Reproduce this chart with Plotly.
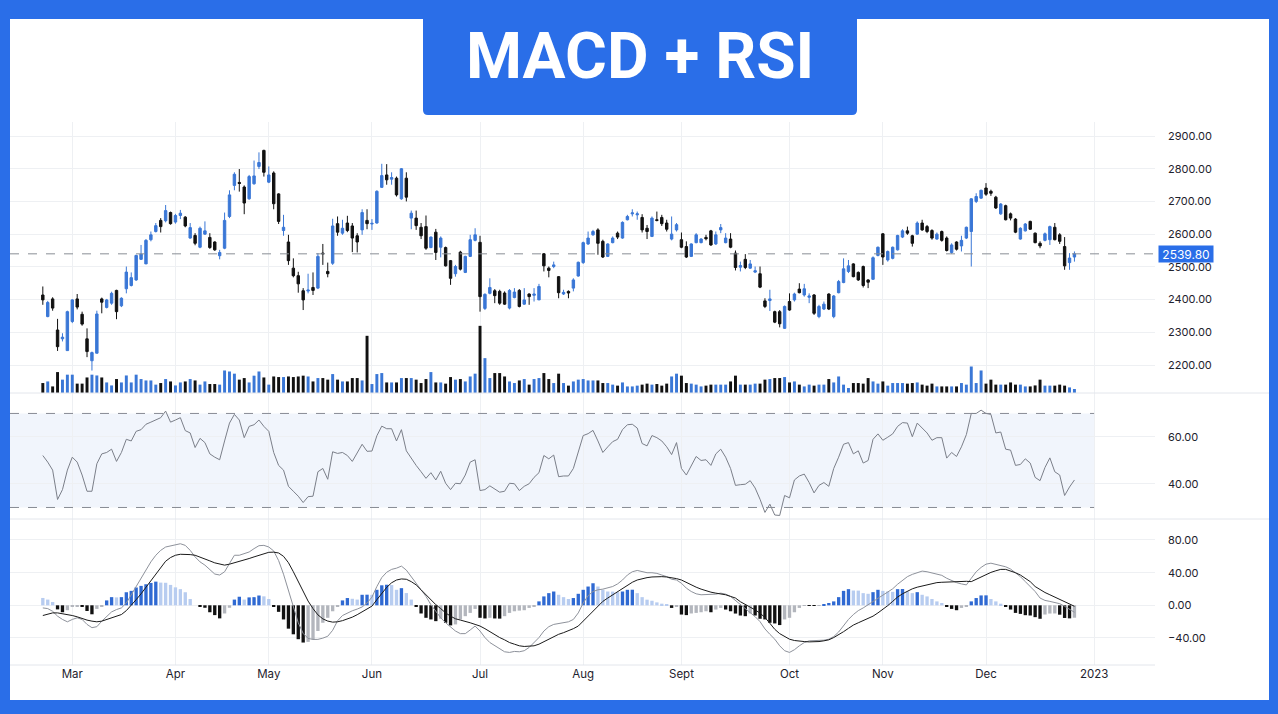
import pandas as pd
import plotly.graph_objects as go

# ---------------- data ----------------
open_ = [2414,2348,2402,2307,2280,2244,2333,2402,2355,2280,
         2213,2236,2402,2376,2389,2428,2381,2433,2443,2460,
         2523,2509,2583,2608,2642,2641,2666,2637,2657,2652,
         2588,2596,2560,2600,2590,2576,2534,2557,2654,2749,
         2758,2744,2708,2754,2807,2856,2759,2787,2723,2611,
         2576,2496,2473,2427,2426,2437,2435,2542,2486,2511,
         2632,2603,2634,2625,2595,2613,2642,2631,2634,2743,
         2781,2768,2771,2708,2771,2649,2649,2621,2623,2559,
         2606,2560,2559,2519,2479,2545,2483,2532,2581,2575,
         2373,2419,2427,2425,2420,2374,2406,2428,2386,2417,
         2413,2399,2540,2496,2501,2470,2417,2425,2435,2472,
         2513,2570,2598,2613,2578,2532,2574,2603,2588,2644,
         2662,2659,2651,2618,2593,2644,2651,2634,2585,2613,
         2583,2562,2532,2574,2574,2590,2610,2570,2613,2574,
         2585,2542,2499,2523,2496,2484,2479,2396,2397,2363,
         2363,2312,2394,2399,2432,2414,2407,2414,2348,2371,
         2417,2348,2421,2452,2486,2509,2483,2501,2460,2462,
         2535,2601,2521,2526,2552,2591,2610,2595,2600,2634,
         2623,2611,2585,2608,2588,2544,2576,2564,2588,2608,
         2700,2710,2741,2731,2713,2662,2687,2662,2646,2585,
         2610,2639,2603,2572,2581,2583,2621,2598,2562,2513,
         2530]
high_ = [2440,2396,2407,2341,2297,2366,2401,2417,2363,2312,
         2241,2366,2406,2402,2424,2430,2407,2501,2483,2537,
         2567,2585,2608,2634,2649,2689,2669,2662,2674,2655,
         2634,2603,2623,2639,2603,2578,2552,2666,2734,2789,
         2799,2749,2781,2825,2850,2858,2807,2792,2725,2659,
         2598,2526,2485,2435,2479,2483,2542,2570,2513,2647,
         2654,2644,2656,2634,2603,2676,2676,2646,2734,2815,
         2814,2789,2776,2802,2789,2672,2672,2634,2657,2593,
         2616,2593,2562,2521,2506,2549,2534,2598,2618,2595,
         2419,2465,2432,2430,2425,2432,2435,2432,2435,2419,
         2435,2448,2542,2501,2516,2472,2430,2428,2465,2516,
         2577,2608,2613,2618,2583,2572,2593,2608,2639,2659,
         2676,2669,2661,2628,2654,2669,2659,2644,2654,2634,
         2605,2578,2572,2603,2588,2598,2613,2608,2631,2603,
         2603,2550,2516,2539,2521,2501,2501,2404,2430,2366,
         2368,2382,2419,2421,2450,2448,2419,2417,2384,2394,
         2419,2414,2460,2526,2521,2511,2486,2504,2462,2532,
         2562,2603,2550,2562,2598,2615,2623,2598,2639,2644,
         2628,2615,2605,2611,2593,2572,2578,2595,2623,2710,
         2725,2736,2756,2736,2717,2695,2690,2666,2649,2621,
         2634,2641,2605,2578,2605,2626,2634,2603,2591,2542,
         2547]
low_ = [2384,2346,2366,2243,2272,2244,2328,2370,2320,2224,
        2183,2236,2358,2373,2384,2340,2377,2419,2440,2457,
        2521,2509,2578,2605,2605,2636,2629,2632,2646,2621,
        2586,2566,2557,2598,2555,2549,2523,2554,2649,2734,
        2730,2661,2705,2751,2799,2776,2756,2676,2631,2595,
        2506,2468,2421,2368,2419,2414,2432,2506,2468,2506,
        2595,2598,2606,2545,2544,2598,2615,2613,2632,2741,
        2751,2751,2715,2705,2700,2615,2613,2585,2552,2557,
        2521,2529,2501,2445,2470,2489,2481,2530,2578,2363,
        2368,2416,2389,2384,2384,2370,2404,2376,2384,2384,
        2394,2399,2486,2468,2496,2404,2414,2404,2425,2470,
        2509,2567,2595,2537,2527,2530,2572,2585,2586,2642,
        2654,2644,2605,2585,2591,2639,2625,2608,2581,2608,
        2557,2527,2530,2572,2572,2581,2564,2567,2603,2572,
        2557,2489,2486,2493,2494,2481,2435,2374,2365,2328,
        2315,2310,2366,2394,2419,2409,2389,2353,2343,2368,
        2368,2343,2419,2450,2481,2468,2457,2437,2435,2460,
        2532,2506,2516,2523,2550,2588,2598,2562,2598,2610,
        2603,2583,2583,2577,2547,2540,2550,2547,2585,2501,
        2695,2708,2717,2717,2677,2659,2642,2642,2603,2583,
        2608,2613,2572,2557,2578,2567,2581,2570,2491,2491,
        2516]
close_ = [2399,2391,2374,2256,2285,2363,2399,2377,2325,2241,
          2238,2356,2392,2399,2419,2363,2404,2484,2467,2535,
          2539,2581,2598,2626,2623,2672,2632,2657,2664,2625,
          2620,2572,2618,2610,2559,2552,2544,2642,2720,2783,
          2755,2695,2776,2778,2819,2789,2781,2693,2639,2621,
          2519,2473,2448,2399,2429,2428,2532,2540,2479,2625,
          2606,2618,2611,2588,2576,2666,2632,2633,2731,2779,
          2766,2773,2720,2800,2713,2664,2626,2595,2557,2591,
          2544,2588,2503,2465,2501,2493,2532,2583,2598,2409,
          2416,2437,2412,2389,2386,2428,2423,2379,2399,2409,
          2417,2440,2503,2489,2506,2421,2422,2420,2460,2514,
          2574,2588,2608,2572,2530,2570,2588,2591,2636,2654,
          2665,2662,2613,2608,2649,2642,2632,2615,2600,2629,
          2560,2530,2570,2598,2585,2586,2567,2598,2620,2588,
          2560,2498,2504,2498,2509,2488,2438,2379,2402,2331,
          2326,2379,2368,2417,2421,2433,2411,2358,2379,2386,
          2371,2411,2455,2494,2503,2470,2460,2443,2453,2528,
          2560,2530,2547,2560,2596,2610,2603,2572,2634,2613,
          2608,2588,2600,2581,2550,2567,2554,2581,2621,2708,
          2715,2734,2722,2725,2680,2692,2644,2649,2606,2618,
          2631,2615,2574,2564,2601,2623,2583,2578,2503,2527,
          2539.80]
volume_m = [5.0,5.8,3.3,10.5,6.7,9.2,9.2,4.7,4.7,7.8,
            9.2,8.8,7.8,5.3,3.8,7.0,5.3,8.8,5.3,9.2,
            7.0,6.3,6.3,4.2,5.0,7.0,5.8,3.8,5.3,5.8,
            7.0,6.3,4.2,5.8,4.5,4.5,4.2,11.3,10.8,9.7,
            6.7,7.5,5.3,8.7,10.8,7.8,4.2,8.3,8.0,8.0,
            8.3,8.0,8.3,8.7,8.3,5.8,7.5,7.5,6.7,9.5,
            6.7,5.8,5.8,7.5,7.5,6.3,28.7,4.5,9.5,10.0,
            5.3,5.3,5.3,7.5,7.5,7.5,6.7,5.0,7.0,10.5,
            5.3,5.3,4.7,8.0,6.7,7.0,5.8,8.3,9.7,33.7,
            17.5,7.5,10.0,10.0,8.3,5.8,5.0,6.3,7.0,4.2,
            7.0,7.5,10.0,7.0,5.0,9.7,5.0,3.7,5.8,6.7,
            7.0,6.3,6.3,6.3,5.0,5.0,4.2,3.7,5.3,3.3,
            3.3,3.7,4.2,4.7,4.2,4.5,3.7,4.7,8.3,9.7,
            8.7,5.0,4.7,4.2,3.3,3.7,4.2,4.2,4.2,4.2,
            5.8,8.7,4.2,4.2,4.2,4.7,4.7,6.7,7.0,7.5,
            7.5,8.0,5.3,5.8,4.2,3.3,4.2,3.7,4.2,4.2,
            7.0,5.3,8.3,4.2,2.5,5.0,5.0,4.7,7.5,5.8,
            4.7,5.8,3.7,5.0,5.0,5.0,4.7,5.0,5.3,4.2,
            3.7,4.7,3.3,3.3,3.3,3.3,3.3,5.0,4.2,13.3,
            5.0,11.3,4.7,6.7,4.2,4.2,4.2,5.3,4.2,4.2,
            3.3,3.3,3.8,6.7,3.7,3.7,3.7,4.2,3.7,2.8,
            2.0]
rsi = [52.1,49.3,45.9,33.4,37.6,45.9,51.4,49.3,43.8,36.9,
       36.9,48.6,52.8,53.4,54.8,49.6,53.4,59.0,58.3,62.4,
       63.1,65.4,66.3,67.2,68.2,71.0,66.3,67.2,68.2,62.7,
       61.7,55.5,59.4,57.6,52.8,51.4,50.3,58.3,65.9,69.6,
       67.2,59.7,64.5,65.2,67.2,64.5,62.4,53.4,47.9,45.9,
       39.0,36.9,34.8,32.1,34.6,34.8,45.2,46.6,42.0,53.7,
       53.0,53.4,52.1,49.6,53.4,56.9,53.9,54.0,60.5,64.6,
       63.5,63.5,58.3,63.1,54.1,50.7,47.9,45.2,42.4,44.8,
       41.7,45.4,40.3,37.6,40.3,40.1,43.8,49.3,50.3,37.2,
       37.6,39.2,37.9,36.5,36.9,40.3,40.1,37.2,39.0,40.1,
       42.8,44.8,52.1,50.7,52.3,43.1,43.4,43.4,46.6,53.4,
       60.6,61.4,62.8,58.3,53.4,55.8,58.0,59.0,63.1,65.2,
       65.4,63.8,57.2,56.2,60.6,59.7,58.3,55.8,52.5,57.6,
       46.6,43.8,47.9,51.7,50.0,50.3,47.9,52.8,54.8,51.4,
       46.6,39.4,39.7,39.9,41.4,38.3,33.5,27.9,31.4,26.8,
       26.6,35.1,34.1,41.7,43.4,44.2,40.6,36.2,39.4,40.6,
       39.0,46.6,51.4,56.9,57.6,52.8,54.1,48.9,50.0,59.0,
       61.3,58.6,59.9,61.3,64.5,66.1,65.9,60.1,65.9,63.8,
       61.7,58.6,59.7,59.7,51.0,53.4,51.7,55.8,61.0,70.0,
       70.0,71.4,70.0,69.6,61.7,62.1,54.8,54.4,47.9,48.3,
       50.7,48.9,42.8,41.4,47.0,51.1,45.2,43.8,35.1,38.7,
       41.7]
macd = [-3.2,-4.0,-7.3,-13.3,-17.3,-20.2,-17.3,-15.3,-17.3,-23.4,
        -27.4,-26.2,-19.4,-13.3,-8.1,-5.2,-3.2,2.8,12.9,23.0,
        33.1,43.1,53.2,61.3,67.3,71.4,73.0,74.2,75.4,73.4,
        67.3,59.3,53.2,49.2,43.1,38.3,37.1,41.1,51.2,61.3,
        61.3,63.3,65.3,69.4,73.0,73.4,71.4,66.6,54.8,38.1,
        18.0,-3.2,-21.4,-34.5,-40.5,-41.8,-41.7,-40.2,-37.9,-30.6,
        -19.0,-12.5,-9.5,-6.7,-4.6,-2.0,2.8,10.0,23.0,34.0,
        40.5,44.0,45.5,48.0,43.1,35.1,27.0,19.0,10.9,0.8,
        -7.3,-15.3,-21.4,-26.2,-31.5,-34.7,-34.7,-30.2,-25.4,-31.5,
        -39.5,-45.6,-49.6,-53.6,-56.9,-57.7,-56.5,-56.9,-55.6,-51.6,
        -45.6,-39.5,-31.5,-26.2,-23.4,-22.2,-21.4,-20.2,-17.3,-9.3,
        2.8,11.7,16.9,19.0,19.8,21.0,23.0,26.2,31.0,37.1,
        41.1,42.7,41.1,39.9,39.9,39.1,37.1,35.1,31.9,31.0,
        27.0,21.0,16.9,14.1,12.9,12.9,12.9,13.7,14.9,13.7,
        10.9,6.0,1.8,-3.6,-8.7,-13.9,-20.0,-28.9,-35.5,-41.5,
        -49.6,-55.6,-57.7,-54.4,-49.6,-45.6,-43.5,-43.5,-43.5,-42.7,
        -41.5,-38.3,-32.7,-24.6,-17.3,-11.3,-6.5,-3.2,0.8,4.8,
        8.9,12.9,16.9,20.2,25.8,31.0,35.1,37.9,40.3,41.9,
        41.1,39.9,38.3,36.7,33.1,30.2,27.8,26.2,25.0,33.1,
        41.1,46.4,50.4,51.6,50.4,49.2,47.2,44.4,39.9,35.1,
        29.0,23.0,16.9,8.9,6.0,4.8,3.6,2.0,-1.2,-5.2,
        -8.5]
signal = [-12.5,-10.5,-9.3,-9.3,-10.1,-11.3,-12.5,-14.1,-16.5,-18.1,
          -19.4,-20.2,-19.4,-17.3,-15.3,-13.3,-11.3,-6.5,-0.4,6.9,
          14.1,22.2,30.2,39.1,47.2,54.0,58.5,61.3,62.5,62.5,
          62.1,61.3,59.3,57.3,54.4,52.0,50.4,49.2,50.4,52.0,
          53.2,55.2,57.3,59.3,61.3,63.3,64.9,65.1,64.1,60.0,
          52.2,41.1,29.0,17.0,5.2,-4.0,-11.7,-16.6,-19.3,-20.6,
          -20.2,-18.8,-16.7,-14.5,-11.5,-8.1,-4.2,-1.0,6.9,14.5,
          22.0,27.6,31.0,32.3,31.9,29.0,25.0,19.0,12.9,6.9,
          0.8,-4.0,-9.3,-13.3,-16.5,-18.1,-19.4,-21.4,-23.4,-25.4,
          -28.6,-32.3,-35.5,-39.5,-42.3,-45.6,-47.6,-49.6,-50.4,-50.4,
          -49.6,-47.6,-44.4,-41.5,-38.3,-35.5,-33.5,-31.5,-28.6,-25.4,
          -19.4,-13.3,-7.3,-1.2,4.8,8.9,12.9,16.9,21.0,25.0,
          28.2,31.0,32.7,33.9,34.7,35.1,35.1,34.7,33.9,32.7,
          31.0,27.8,25.0,22.2,19.8,17.7,16.1,14.9,14.1,12.9,
          10.9,8.9,4.4,1.2,-2.0,-5.6,-9.6,-14.9,-22.0,-29.4,
          -34.7,-38.3,-41.5,-43.1,-44.0,-44.4,-44.8,-44.8,-44.4,-43.5,
          -42.3,-39.5,-36.3,-32.3,-28.2,-24.2,-21.4,-19.0,-16.5,-13.3,
          -9.3,-5.2,-0.4,4.8,10.1,14.1,17.3,20.2,22.2,23.8,
          25.4,27.0,27.8,28.2,28.6,29.0,29.4,29.8,29.4,29.0,
          31.9,35.1,37.9,40.3,42.3,44.0,44.0,42.3,39.9,37.1,
          33.1,29.0,23.0,19.0,15.7,12.9,10.1,7.7,4.8,1.6,
          -1.2]
hist = [9,7,4,-5,-8.5,-6,-1.5,-1,-1.5,-7,
        -11,-4.4,-1,6,10,9.7,10,16,17.7,21.8,
        23.8,25.8,27.4,29,27.8,27.6,25,22,19.8,16,
        7.7,0,-2,-3,-8.5,-12,-16,-10,-3,7,
        10.5,7,9.7,10,12,11,7.7,-1,-8,-17.3,
        -28.6,-35.5,-41.5,-45.6,-44.8,-41.5,-31.5,-21.4,-15.3,-7.3,
        -1,6,8.9,8,7,12.9,13,12.8,19,24.5,
        25.2,24.8,19,21,15,7,-2,-10,-15.3,-17.3,
        -19.4,-16.5,-21.4,-24.6,-23.4,-17.3,-13.3,-9.3,-4.4,-15.3,
        -16.1,-15.3,-16.1,-16.3,-13.3,-9.3,-7.3,-6.5,-6,-3.2,
        -1.2,4.8,10.9,14.9,16.9,12.9,10,7.7,8.9,14.1,
        19,23,27,23,19,16.9,16.8,16.1,16.9,19,
        19.1,14.9,10,6.9,5.6,3.6,2,0.8,-3.2,-1.2,
        -11.3,-12,-10,-9.3,-8.5,-7.3,-8.5,-5.2,-3.2,-5.2,
        -7.3,-10.1,-12.5,-13.3,-10,-12.5,-16.5,-17.3,-21.4,-22.2,
        -24.2,-17.3,-15.3,-8.5,-3.2,-0.5,-0.6,-0.8,-0.5,1.5,
        2.8,4.8,10,17.7,19.8,18.1,18,14.9,14.1,16.1,
        19,17.7,16.9,16.5,19.8,20,16.9,14.9,16.1,12.9,
        10.9,7.7,4.8,2.8,-2,-4.4,-6,-3.2,-1.2,4.8,
        8.9,12.1,12.2,7.7,4.8,2,-1.2,-5.2,-9.3,-10.5,
        -12.1,-12.5,-14.5,-16.5,-11.3,-10.1,-10,-11.5,-15.5,-16,
        -15.2]

holidays = ["2022-03-01", "2022-03-18", "2022-04-14", "2022-04-15", "2022-05-03",
            "2022-08-09", "2022-08-15", "2022-08-31", "2022-10-05", "2022-10-26",
            "2022-11-08"]
month_keys = ["2022-03", "2022-04", "2022-05", "2022-06", "2022-07", "2022-08",
              "2022-09", "2022-10", "2022-11", "2022-12", "2023-01"]
month_labels = ["Mar", "Apr", "May", "Jun", "Jul", "Aug", "Sept", "Oct", "Nov", "Dec", "2023"]
price_ticks = [2200, 2300, 2400, 2500, 2600, 2700, 2800, 2900]
rsi_ticks = [40, 60]
macd_ticks = [-40, 0, 40, 80]
RSI_UPPER, RSI_LOWER = 70, 30
TITLE = "MACD + RSI"

# ---------------- layout constants ----------------
W, H = 1278, 714
BLUE = "#2A6EE8"
CANDLE_BLUE = "#3A77D6"
DARK_BLUE = "#2F69D2"
LIGHT_BLUE = "#B7CCF0"
GRAY_BAR = "#B3B6BD"
BLACK = "#111111"
GRID = "#EEF0F3"
SEP = "#E3E6EC"
TXT = "#1E222D"
FONT = "Inter"


def fx(p):
    return p / W


def fy(p):
    return 1 - p / H


cal = pd.bdate_range("2022-02-21", "2023-01-13")
cal = cal[~cal.isin(pd.to_datetime(holidays))]
n = len(close_)
dates = cal[:n]
idx = list(range(n))
ym = cal.strftime("%Y-%m")
tick_pos = [int((ym == k).argmax()) for k in month_keys]

X_RANGE = [-6.68, 226.4]

up = [c >= o for o, c in zip(open_, close_)]
vol_colors = [CANDLE_BLUE if u else BLACK for u in up]

hist_colors = []
for i, v in enumerate(hist):
    prev = hist[i - 1] if i > 0 else v
    if v >= 0:
        hist_colors.append(DARK_BLUE if v > prev else LIGHT_BLUE)
    else:
        hist_colors.append(BLACK if v < prev else GRAY_BAR)

fig = go.Figure()

fig.add_trace(go.Bar(x=idx, y=volume_m, marker=dict(color=vol_colors, line=dict(width=0)),
                     width=0.6, xaxis="x", yaxis="y4"))
fig.add_trace(go.Candlestick(
    x=idx, open=open_, high=high_, low=low_, close=close_,
    increasing=dict(line=dict(color=CANDLE_BLUE, width=1), fillcolor=CANDLE_BLUE),
    decreasing=dict(line=dict(color=BLACK, width=1), fillcolor=BLACK),
    whiskerwidth=0, xaxis="x", yaxis="y"))

fig.add_trace(go.Scatter(x=idx, y=rsi, mode="lines", line=dict(color="#7B7F89", width=1),
                         xaxis="x2", yaxis="y2"))

fig.add_trace(go.Bar(x=idx, y=hist, marker=dict(color=hist_colors, line=dict(width=0)),
                     width=0.68, xaxis="x3", yaxis="y3"))
fig.add_trace(go.Scatter(x=idx, y=macd, mode="lines", line=dict(color="#8E929B", width=1),
                         xaxis="x3", yaxis="y3"))
fig.add_trace(go.Scatter(x=idx, y=signal, mode="lines", line=dict(color="#1A1A1A", width=1),
                         xaxis="x3", yaxis="y3"))

tickfont = dict(family=FONT, size=11, color=TXT)
xcommon = dict(range=X_RANGE, domain=[fx(10), fx(1155)], tickvals=tick_pos, ticktext=month_labels,
               showgrid=True, gridcolor=GRID, gridwidth=1, zeroline=False, showline=False,
               ticks="", fixedrange=True)
ycommon = dict(side="right", showgrid=True, gridcolor=GRID, gridwidth=1, zeroline=False,
               showline=False, ticks="", tickformat=".2f", tickfont=tickfont,
               ticklabelstandoff=12, fixedrange=True)

fig.update_layout(
    width=W, height=H,
    margin=dict(l=0, r=0, t=0, b=0),
    paper_bgcolor="white", plot_bgcolor="rgba(0,0,0,0)",
    showlegend=False, hovermode=False,
    xaxis=dict(**xcommon, anchor="y", showticklabels=False, rangeslider=dict(visible=False)),
    xaxis2=dict(**xcommon, anchor="y2", showticklabels=False, matches="x"),
    xaxis3=dict(**xcommon, anchor="y3", showticklabels=True, matches="x",
                tickfont=dict(family=FONT, size=11.5, color=TXT)),
    yaxis=dict(**ycommon, anchor="x", domain=[fy(393), fy(122)], range=[2114.4, 2942.8],
               tickvals=price_ticks),
    yaxis4=dict(anchor="x", overlaying="y", range=[0, 136], visible=False, fixedrange=True),
    yaxis2=dict(**ycommon, anchor="x2", domain=[fy(519), fy(393)], range=[25.1, 78.7],
                tickvals=rsi_ticks),
    yaxis3=dict(**ycommon, anchor="x3", domain=[fy(665), fy(519)], range=[-73.1, 105.7],
                tickvals=macd_ticks),
)

shapes = []
# RSI band and levels
shapes.append(dict(type="rect", xref="x2", yref="y2", x0=X_RANGE[0], x1=tick_pos[-1],
                   y0=RSI_LOWER, y1=RSI_UPPER, fillcolor="#F1F5FC", line=dict(width=0), layer="below"))
for lvl in (RSI_UPPER, RSI_LOWER):
    shapes.append(dict(type="line", xref="x2", yref="y2", x0=X_RANGE[0], x1=tick_pos[-1],
                       y0=lvl, y1=lvl, line=dict(color="#878B94", width=1, dash="dash")))
# last price line
shapes.append(dict(type="line", xref="paper", yref="y", x0=fx(10), x1=fx(1155),
                   y0=close_[-1], y1=close_[-1], line=dict(color="#8A8E96", width=1, dash="dash")))
# panel separators
for py in (393, 519):
    shapes.append(dict(type="line", xref="paper", yref="paper", x0=fx(10), x1=fx(1269),
                       y0=fy(py), y1=fy(py), line=dict(color=SEP, width=1)))
shapes.append(dict(type="line", xref="paper", yref="paper", x0=fx(10), x1=fx(1155),
                   y0=fy(665), y1=fy(665), line=dict(color=SEP, width=1)))
# blue frame
for (x0, x1, y0, y1) in [(0, W, 0, 19), (0, 10, 0, H), (1269, W, 0, H), (0, W, 700, H)]:
    shapes.append(dict(type="rect", xref="paper", yref="paper", x0=fx(x0), x1=fx(x1),
                       y0=fy(y1), y1=fy(y0), fillcolor=BLUE, line=dict(width=0), layer="above"))
# title box with rounded bottom corners
bx0, bx1, by0, by1, r = fx(423), fx(857), fy(0), fy(115), 5
dx, dy = r / W, r / H
path = (f"M {bx0},{by0} L {bx1},{by0} L {bx1},{by1 + dy} Q {bx1},{by1} {bx1 - dx},{by1} "
        f"L {bx0 + dx},{by1} Q {bx0},{by1} {bx0},{by1 + dy} Z")
shapes.append(dict(type="path", xref="paper", yref="paper", path=path, fillcolor=BLUE,
                   line=dict(width=0), layer="above"))
fig.update_layout(shapes=shapes)

fig.add_annotation(text=TITLE, xref="paper", yref="paper", x=fx(640), y=fy(57),
                   xanchor="center", yanchor="middle", showarrow=False,
                   font=dict(family="Roboto", size=64, color="white", weight=700))
fig.add_annotation(text=f"{close_[-1]:.2f}", xref="paper", yref="y", x=fx(1158), y=close_[-1],
                   xanchor="left", yanchor="middle", showarrow=False, bgcolor=BLUE,
                   width=50, height=12, borderpad=2,
                   font=dict(family=FONT, size=12, color="white"))

fig.write_html("out.html", include_plotlyjs=True, config={"displayModeBar": False},
               post_script="document.body.style.margin='0';document.body.style.overflow='hidden';")
